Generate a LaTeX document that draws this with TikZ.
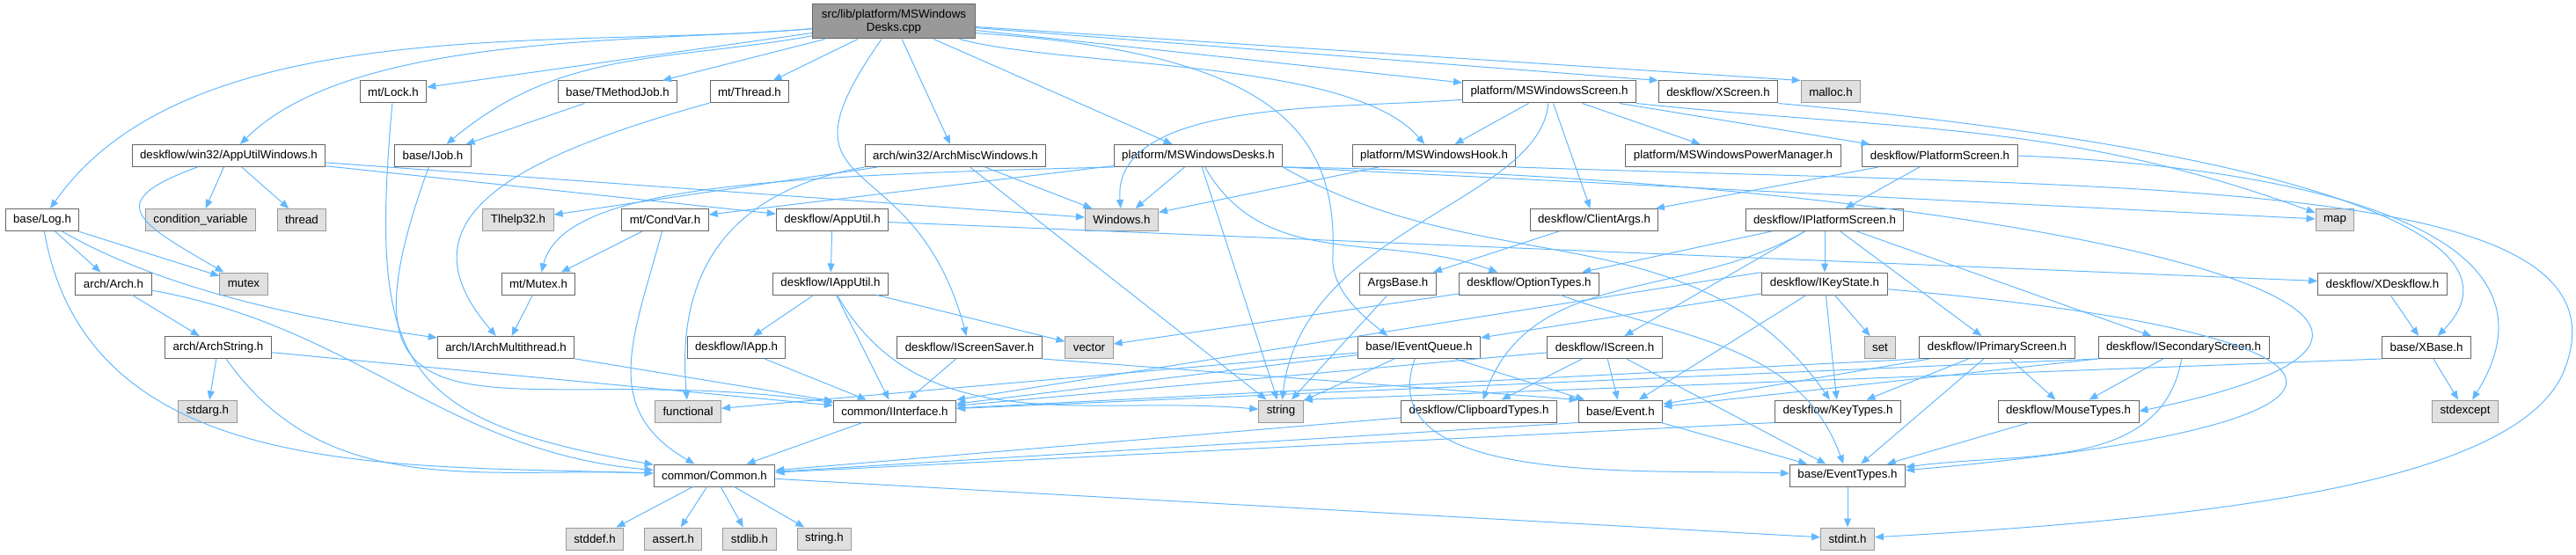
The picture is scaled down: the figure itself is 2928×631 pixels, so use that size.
\documentclass[tikz,border=0pt]{standalone}
\usepackage{fontspec}
\setmainfont{Liberation Sans}
\usepackage{tikz}
\usetikzlibrary{shapes,arrows.meta,positioning}

\definecolor{edgeblue}{HTML}{63B8FF}
\definecolor{boxline}{HTML}{666666}
\definecolor{sysline}{HTML}{999999}
\definecolor{sysfill}{HTML}{E0E0E0}
\definecolor{rootfill}{HTML}{999999}

\begin{document}
\begin{tikzpicture}[x=1pt, y=1pt,
        font=\fontsize{13.3}{15}\selectfont,
        node distance=23pt,
        file/.style={draw=boxline, fill=white, line width=1pt, minimum height=25pt, inner xsep=9pt, inner ysep=2pt},
        sys/.style={file, draw=sysline, fill=sysfill},
        dep/.style={color=edgeblue, line width=1pt, -{Triangle[length=10pt, width=8pt, color=edgeblue, fill=edgeblue]}}]
        \useasboundingbox (0,0) rectangle (2928,-631);

        % Place nodes
        \node [file, fill=rootfill, align=center, minimum width=185pt, minimum height=39pt] (root) at (1016,-24.5) {src/lib/platform/MSWindows\\Desks.cpp};

        \node [file] (lock) at (447,-104.5) {mt/Lock.h};
        \node [file] (tmethodjob) at (702,-104.5) {base/TMethodJob.h};
        \node [file] (thread) at (852,-104.5) {mt/Thread.h};
        \node [file] (mswscreen) at (1761,-104.5) {platform/MSWindowsScreen.h};
        \node [file] (xscreen) at (1953,-104.5) {deskflow/XScreen.h};
        \node [sys] (malloc) at (2081,-104.5) {malloc.h};

        \node [file] (appwin) at (260,-177) {deskflow/win32/AppUtilWindows.h};
        \node [file] (ijob) at (492,-177) {base/IJob.h};
        \node [file] (archmisc) at (1086,-177) {arch/win32/ArchMiscWindows.h};
        \node [file] (mswdesks) at (1362,-177) {platform/MSWindowsDesks.h};
        \node [file] (mswhook) at (1630,-177) {platform/MSWindowsHook.h};
        \node [file] (powermgr) at (1970,-177) {platform/MSWindowsPowerManager.h};
        \node [file] (platscreen) at (2205,-177) {deskflow/PlatformScreen.h};

        \node [file] (log) at (48,-250) {base/Log.h};
        \node [sys] (condvarstd) at (228,-250) {condition\_variable};
        \node [sys] (threadstd) at (343,-250) {thread};
        \node [sys] (tlhelp) at (589,-250) {Tlhelp32.h};
        \node [file] (condvar) at (756,-250) {mt/CondVar.h};
        \node [file] (apputil) at (946,-250) {deskflow/AppUtil.h};
        \node [sys] (windows) at (1275,-250) {Windows.h};
        \node [file] (clientargs) at (1812,-250) {deskflow/ClientArgs.h};
        \node [file] (iplatscreen) at (2074,-250) {deskflow/IPlatformScreen.h};
        \node [sys] (map) at (2654,-250) {map};

        \node [file] (arch) at (129,-322.5) {arch/Arch.h};
        \node [sys] (mutexstd) at (277,-322.5) {mutex};
        \node [file] (mutex) at (612,-322.5) {mt/Mutex.h};
        \node [file] (iapputil) at (944,-322.5) {deskflow/IAppUtil.h};
        \node [file] (argsbase) at (1589,-322.5) {ArgsBase.h};
        \node [file] (optiontypes) at (1738,-322.5) {deskflow/OptionTypes.h};
        \node [file] (ikeystate) at (2074,-322.5) {deskflow/IKeyState.h};
        \node [file] (xdeskflow) at (2708,-322.5) {deskflow/XDeskflow.h};

        \node [file] (archstring) at (248,-395) {arch/ArchString.h};
        \node [file] (iarchmt) at (575,-395) {arch/IArchMultithread.h};
        \node [file] (iapp) at (837,-395) {deskflow/IApp.h};
        \node [file] (iscreensaver) at (1102,-395) {deskflow/IScreenSaver.h};
        \node [sys] (vector) at (1238,-395) {vector};
        \node [file] (ieventqueue) at (1613,-395) {base/IEventQueue.h};
        \node [file] (iscreen) at (1824,-395) {deskflow/IScreen.h};
        \node [sys] (set) at (2137,-395) {set};
        \node [file] (iprimary) at (2270,-395) {deskflow/IPrimaryScreen.h};
        \node [file] (isecondary) at (2482,-395) {deskflow/ISecondaryScreen.h};
        \node [file] (xbase) at (2758,-395) {base/XBase.h};

        \node [sys] (stdarg) at (236,-467.5) {stdarg.h};
        \node [sys] (functional) at (782,-467.5) {functional};
        \node [file] (iinterface) at (1017,-467.5) {common/IInterface.h};
        \node [sys] (string) at (1456,-467.5) {string};
        \node [file] (clipboard) at (1681,-467.5) {deskflow/ClipboardTypes.h};
        \node [file] (event) at (1842,-467.5) {base/Event.h};
        \node [file] (keytypes) at (2089,-467.5) {deskflow/KeyTypes.h};
        \node [file] (mousetypes) at (2351,-467.5) {deskflow/MouseTypes.h};
        \node [sys] (stdexcept) at (2802,-467.5) {stdexcept};

        \node [file] (common) at (812,-540.5) {common/Common.h};
        \node [file] (eventtypes) at (2100,-540.5) {base/EventTypes.h};

        \node [sys] (stddef) at (676,-612.5) {stddef.h};
        \node [sys, right=of stddef] (assert) {assert.h};
        \node [sys, right=of assert] (stdlib) {stdlib.h};
        \node [sys, right=of stdlib] (stringh) {string.h};
        \node [sys] (stdint) at (2100,-612.5) {stdint.h};

        % Draw edges
        \path[dep]
        (root) edge [out=185, in=55, looseness=0.8] (log)
        edge [out=185, in=45, looseness=0.7] (appwin)
        edge (lock)
        edge [out=190, in=40] (ijob)
        edge (tmethodjob)
        edge (thread)
        edge [out=-125, in=105, looseness=1.7] (iscreensaver)
        edge (archmisc)
        edge (mswdesks)
        edge (mswscreen)
        edge [out=-15, in=130, looseness=0.6] (mswhook)
        edge (xscreen.north west)
        edge (malloc.north west);

        \path[dep]
        (appwin) edge [out=-160, in=150, looseness=2.4] (mutexstd)
        edge (condvarstd)
        edge (threadstd)
        edge (windows)
        edge (apputil);

        \path[dep]
        (log) edge (arch)
        edge (mutexstd)
        edge [out=-30, in=172, looseness=0.8] (iarchmt)
        edge [out=-80, in=178] (common)
        (arch) edge (archstring)
        edge [out=-10, in=175] (common)
        (archstring) edge (stdarg)
        edge [out=-55, in=178] (common)
        edge (iinterface);

        \path[dep]
        (lock) edge [out=-95, in=170, looseness=1.5] (common)
        (ijob) edge [out=-110, in=172, looseness=1.8] (iinterface)
        (tmethodjob) edge (ijob)
        (mutex) edge (iarchmt)
        (condvar) edge (mutex)
        edge [out=-105, in=150, looseness=1.2] (common)
        (iarchmt) edge (iinterface);

        \path[dep]
        (archmisc) edge (tlhelp)
        edge (string)
        edge (windows)
        (archmisc.south west) edge [out=190, in=95, out distance=120pt, in distance=180pt] (functional);

        \path[dep]
        (mswdesks) edge (condvar)
        edge (windows)
        edge (string)
        edge [out=-60, in=160] (optiontypes)
        (mswdesks.south east) edge [out=-30, in=125] (keytypes)
        edge (map);

        \path[dep]
        (mswhook) edge (windows)
        (mswscreen) edge [out=185, in=95, looseness=0.8] (windows)
        edge (mswhook)
        edge (powermgr)
        edge (platscreen)
        edge (clientargs)
        (mswscreen.south east) edge [out=-6, in=160] (map);

        \path[dep]
        (platscreen) edge (iplatscreen)
        edge (clientargs)
        (clientargs) edge (argsbase)
        (argsbase) edge (string)
        (optiontypes) edge (vector)
        edge [out=-20, in=110] (eventtypes)
        (iplatscreen) edge (optiontypes)
        edge [out=-150, in=70] (clipboard)
        edge (iscreen)
        edge (ikeystate)
        edge (iprimary)
        edge (isecondary);

        \path[dep]
        (ikeystate) edge (set)
        edge (keytypes)
        edge (event)
        edge (ieventqueue)
        (ikeystate.north west) edge (iinterface.north east)
        (ikeystate) edge [out=-5, in=5, looseness=7.3] (eventtypes)
        (iscreen) edge (event)
        edge (eventtypes)
        edge (iinterface)
        edge (clipboard)
        (iprimary) edge (event)
        edge (keytypes)
        edge (mousetypes)
        edge (eventtypes)
        (iprimary.south west) edge (iinterface)
        (isecondary) edge (mousetypes)
        edge [out=-100, in=8] (eventtypes)
        (isecondary.south west) edge (event)
        edge (iinterface);

        \path[dep]
        (ieventqueue) edge (iinterface)
        edge (functional)
        edge (string)
        edge (event)
        edge [out=-110, in=178, looseness=0.9] (eventtypes)
        (iscreensaver) edge (iinterface)
        (iscreensaver.south east) edge (event.north west)
        (iapp) edge (iinterface)
        (iapputil) edge (iapp)
        edge (iinterface)
        edge (vector)
        edge [out=-60, in=175] (string)
        (apputil) edge (iapputil)
        edge (xdeskflow)
        (xdeskflow) edge (xbase)
        (xbase) edge (stdexcept)
        (xbase.south west) edge (string.north east);

        \path[dep]
        (event.south west) edge (common)
        (event) edge (eventtypes)
        (keytypes.south west) edge (common)
        (clipboard) edge (common)
        (mousetypes) edge (eventtypes)
        (eventtypes) edge (stdint)
        (iinterface) edge (common)
        (common) edge (stddef)
        edge (assert)
        edge (stdlib)
        edge (stringh)
        edge (stdint);

        % Long edges round the side
        \draw[dep] (root.-8) .. controls (1450,-60) and (1520,-150) .. (1515,-290)
                .. controls (1512,-330) and (1550,-360) .. (ieventqueue.160);
        \draw[dep] (thread) .. controls (580,-180) and (450,-250) .. (iarchmt);
        \draw[dep] (mswdesks.south west) .. controls (850,-200) and (640,-215) .. (mutex);
        \draw[dep] (mswdesks.south east) .. controls (2200,-200) and (3000,-350) .. (mousetypes.east);
        \draw[dep] (mswscreen) .. controls (1750,-230) and (1480,-260) .. (string);
        \draw[dep] (xscreen.south east) .. controls (2500,-160) and (2900,-250) .. (xbase);
        \draw[dep] (platscreen.east) .. controls (2500,-185) and (2950,-230) .. (stdexcept);
        \draw[dep] (mswhook.south east) .. controls (2450,-215) and (3000,-200) .. (2915,-420)
                .. controls (2864,-552) and (2500,-590) .. (stdint);
    \end{tikzpicture}
\end{document}
